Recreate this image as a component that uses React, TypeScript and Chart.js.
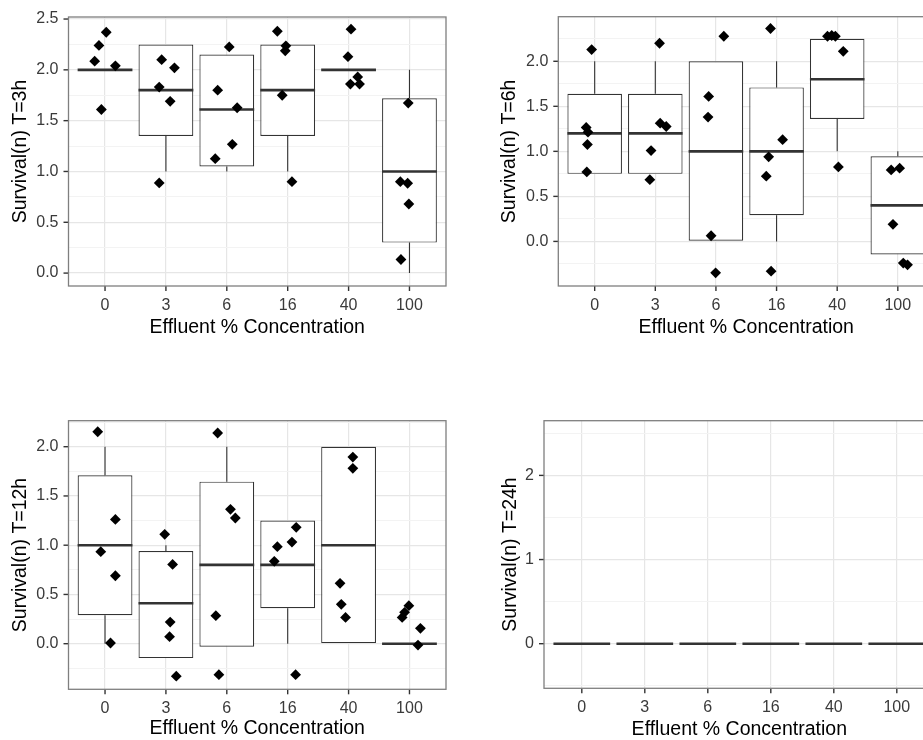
import React, { useEffect, useRef } from "react";
import { Chart, registerables } from "chart.js";

Chart.register(...registerables);

// ---------- data ----------
const categories = ["0", "3", "6", "16", "40", "100"];
const xAxisTitle = "Effluent % Concentration";

// T = 3h
const t3Title = "Survival(n) T=3h";
const t3Q1 = [2.0, 1.35, 1.05, 1.35, 2.0, 0.3];
const t3Median = [2.0, 1.8, 1.61, 1.8, 2.0, 1.0];
const t3Q3 = [2.0, 2.25, 2.15, 2.25, 2.0, 1.72];
const t3Low = [2.0, 1.0, 1.0, 1.0, 2.0, 0.0];
const t3High = [2.0, 2.25, 2.15, 2.25, 2.0, 2.0];
const t3Values = [
  [2.37, 2.24, 2.085, 2.04, 1.61],
  [2.1, 2.02, 1.83, 1.69, 0.887],
  [2.226, 1.8, 1.627, 1.267, 1.126],
  [2.38, 2.236, 2.187, 1.75, 0.9],
  [2.4, 2.13, 1.93, 1.86, 1.86],
  [1.673, 0.9, 0.884, 0.68, 0.134],
];
const t3Jitter = [
  [0.02, -0.1, -0.17, 0.17, -0.06],
  [-0.07, 0.14, -0.11, 0.07, -0.11],
  [0.04, -0.15, 0.17, 0.09, -0.19],
  [-0.17, -0.03, -0.04, -0.09, 0.07],
  [0.04, -0.01, 0.15, 0.03, 0.18],
  [-0.02, -0.15, -0.03, -0.01, -0.14],
];
const t3MajorTicks = [0, 0.5, 1, 1.5, 2, 2.5];
const t3MinorTicks = [0.25, 0.75, 1.25, 1.75, 2.25];
const t3Range = [-0.127, 2.52];

// T = 6h
const t6Title = "Survival(n) T=6h";
const t6Q1 = [0.75, 0.75, 0.0, 0.29, 1.36, -0.145];
const t6Median = [1.2, 1.2, 1.0, 1.0, 1.8, 0.4];
const t6Q3 = [1.64, 1.64, 2.0, 1.71, 2.25, 0.945];
const t6Low = [0.75, 0.75, 0.0, 0.0, 1.0, -0.145];
const t6High = [2.0, 2.0, 2.0, 2.0, 2.25, 1.0];
const t6Values = [
  [2.13, 1.265, 1.213, 1.076, 0.772],
  [2.2, 1.313, 1.276, 1.009, 0.686],
  [2.278, 1.61, 1.38, 0.063, -0.349],
  [2.364, 1.13, 0.939, 0.724, -0.33],
  [2.278, 2.286, 2.278, 2.111, 0.827],
  [0.794, 0.813, 0.19, -0.24, -0.26],
];
const t6Jitter = [
  [-0.05, -0.14, -0.11, -0.12, -0.13],
  [0.07, 0.08, 0.18, -0.07, -0.09],
  [0.13, -0.12, -0.13, -0.08, -0.005],
  [-0.1, 0.1, -0.13, -0.17, -0.09],
  [-0.16, -0.09, -0.03, 0.1, 0.02],
  [-0.11, 0.03, -0.08, 0.09, 0.16],
];
const t6MajorTicks = [0, 0.5, 1, 1.5, 2];
const t6MinorTicks = [-0.25, 0.25, 0.75, 1.25, 1.75, 2.25];
const t6Range = [-0.495, 2.495];

// T = 12h
const t12Title = "Survival(n) T=12h";
const t12Q1 = [0.29, -0.146, -0.03, 0.36, 0.0, 0.0];
const t12Median = [1.0, 0.41, 0.8, 0.8, 1.0, 0.0];
const t12Q3 = [1.71, 0.94, 1.645, 1.25, 2.0, 0.0];
const t12Low = [0.0, -0.146, -0.03, 0.0, 0.0, 0.0];
const t12High = [2.0, 1.0, 2.0, 1.25, 2.0, 0.0];
const t12Values = [
  [2.152, 1.262, 0.934, 0.69, 0.007],
  [1.11, 0.805, 0.22, 0.071, -0.33],
  [2.139, 1.364, 1.276, 0.284, -0.315],
  [1.181, 1.032, 0.985, 0.836, -0.315],
  [1.895, 1.78, 0.613, 0.4, 0.267],
  [0.386, 0.318, 0.267, 0.156, -0.014],
];
const t12Jitter = [
  [-0.12, 0.17, -0.07, 0.17, 0.09],
  [-0.02, 0.11, 0.07, 0.06, 0.17],
  [-0.15, 0.06, 0.14, -0.18, -0.13],
  [0.14, 0.07, -0.17, -0.22, 0.13],
  [0.07, 0.07, -0.14, -0.12, -0.05],
  [-0.01, -0.08, -0.12, 0.18, 0.14],
];
const t12MajorTicks = [0, 0.5, 1, 1.5, 2];
const t12MinorTicks = [-0.25, 0.25, 0.75, 1.25, 1.75, 2.25];
const t12Range = [-0.463, 2.264];

// T = 24h
const t24Title = "Survival(n) T=24h";
const t24Q1 = [0, 0, 0, 0, 0, 0];
const t24Median = [0, 0, 0, 0, 0, 0];
const t24Q3 = [0, 0, 0, 0, 0, 0];
const t24Low = [0, 0, 0, 0, 0, 0];
const t24High = [0, 0, 0, 0, 0, 0];
const t24Values: number[][] = [[], [], [], [], [], []];
const t24Jitter: number[][] = [[], [], [], [], [], []];
const t24MajorTicks = [0, 1, 2];
const t24MinorTicks = [-0.5, 0.5, 1.5, 2.5];
const t24Range = [-0.53, 2.65];

// ---------- styling ----------
const FONT = "'Liberation Sans', Arial, Helvetica, sans-serif";
const BOX_COLOR = "#333333";
const GRID_MAJOR = "#E6E6E6";
const GRID_MINOR = "#F3F3F3";
const BORDER_COLOR = "#7F7F7F";
const TICK_TEXT = "#3A3A3A";
const TICK_LEN = 5;

type PanelData = {
  title: string;
  q1: number[];
  median: number[];
  q3: number[];
  low: number[];
  high: number[];
  values: number[][];
  jitter: number[][];
  major: number[];
  minor: number[];
  range: number[];
  decimals: number;
};

type Layout = {
  left: number;
  top: number;
  w: number;
  h: number;
  padLeft: number;
  padTop: number;
  padRight: number;
  yAxisWidth: number;
  xAxisHeight: number;
  xTitlePad: number;
};

const panels: { data: PanelData; layout: Layout }[] = [
  {
    data: { title: t3Title, q1: t3Q1, median: t3Median, q3: t3Q3, low: t3Low, high: t3High, values: t3Values, jitter: t3Jitter, major: t3MajorTicks, minor: t3MinorTicks, range: t3Range, decimals: 1 },
    layout: { left: 0, top: 0, w: 460, h: 345, padLeft: 0, padTop: 17, padRight: 14, yAxisWidth: 68.5, xAxisHeight: 59, xTitlePad: 5.6 },
  },
  {
    data: { title: t6Title, q1: t6Q1, median: t6Median, q3: t6Q3, low: t6Low, high: t6High, values: t6Values, jitter: t6Jitter, major: t6MajorTicks, minor: t6MinorTicks, range: t6Range, decimals: 1 },
    layout: { left: 460, top: 0, w: 490, h: 345, padLeft: 28.3, padTop: 16.7, padRight: 15.8, yAxisWidth: 70, xAxisHeight: 59, xTitlePad: 5.3 },
  },
  {
    data: { title: t12Title, q1: t12Q1, median: t12Median, q3: t12Q3, low: t12Low, high: t12High, values: t12Values, jitter: t12Jitter, major: t12MajorTicks, minor: t12MinorTicks, range: t12Range, decimals: 1 },
    layout: { left: 0, top: 400, w: 460, h: 350, padLeft: 0, padTop: 20.7, padRight: 14, yAxisWidth: 68.5, xAxisHeight: 60.7, xTitlePad: 9.3 },
  },
  {
    data: { title: t24Title, q1: t24Q1, median: t24Median, q3: t24Q3, low: t24Low, high: t24High, values: t24Values, jitter: t24Jitter, major: t24MajorTicks, minor: t24MinorTicks, range: t24Range, decimals: 0 },
    layout: { left: 460, top: 400, w: 490, h: 350, padLeft: 29.5, padTop: 20.7, padRight: 15.4, yAxisWidth: 54.5, xAxisHeight: 61.7, xTitlePad: 8.9 },
  },
];

function makeBoxPlugin(p: PanelData) {
  const clipArea = (chart: any) => {
    const { ctx, chartArea } = chart;
    ctx.beginPath();
    ctx.rect(chartArea.left, chartArea.top, chartArea.right - chartArea.left, chartArea.bottom - chartArea.top);
    ctx.clip();
  };
  return {
    id: "boxParts",
    beforeDatasetsDraw(chart: any) {
      const { ctx, scales } = chart;
      const xs = scales.x;
      const ys = scales.y;
      ctx.save();
      clipArea(chart);
      ctx.strokeStyle = BOX_COLOR;
      ctx.lineWidth = 1.1;
      p.q1.forEach((q1, i) => {
        const x = xs.getPixelForValue(i);
        if (p.low[i] < q1) {
          ctx.beginPath();
          ctx.moveTo(x, ys.getPixelForValue(p.low[i]));
          ctx.lineTo(x, ys.getPixelForValue(q1));
          ctx.stroke();
        }
        if (p.high[i] > p.q3[i]) {
          ctx.beginPath();
          ctx.moveTo(x, ys.getPixelForValue(p.q3[i]));
          ctx.lineTo(x, ys.getPixelForValue(p.high[i]));
          ctx.stroke();
        }
      });
      ctx.restore();
    },
    afterDatasetDraw(chart: any, args: any) {
      if (args.meta.type !== "bar") return;
      const { ctx, scales } = chart;
      const xs = scales.x;
      const ys = scales.y;
      ctx.save();
      clipArea(chart);
      ctx.strokeStyle = BOX_COLOR;
      ctx.lineWidth = 2.6;
      p.median.forEach((m, i) => {
        const y = ys.getPixelForValue(m);
        ctx.beginPath();
        ctx.moveTo(xs.getPixelForValue(i - 0.45), y);
        ctx.lineTo(xs.getPixelForValue(i + 0.45), y);
        ctx.stroke();
      });
      ctx.restore();
    },
    afterDraw(chart: any) {
      const { ctx, chartArea, scales } = chart;
      ctx.save();
      // axis tick marks
      ctx.strokeStyle = BOX_COLOR;
      ctx.lineWidth = 1.4;
      categories.forEach((_, i) => {
        const x = scales.x.getPixelForValue(i);
        ctx.beginPath();
        ctx.moveTo(x, chartArea.bottom);
        ctx.lineTo(x, chartArea.bottom + TICK_LEN);
        ctx.stroke();
      });
      p.major.forEach((v) => {
        const y = scales.y.getPixelForValue(v);
        ctx.beginPath();
        ctx.moveTo(chartArea.left - TICK_LEN, y);
        ctx.lineTo(chartArea.left, y);
        ctx.stroke();
      });
      // panel border
      ctx.strokeStyle = BORDER_COLOR;
      ctx.lineWidth = 1.3;
      ctx.strokeRect(chartArea.left, chartArea.top, chartArea.right - chartArea.left, chartArea.bottom - chartArea.top);
      ctx.restore();
    },
  };
}

function buildConfig(p: PanelData, l: Layout): any {
  const points: { x: number; y: number }[] = [];
  p.values.forEach((vals, i) =>
    vals.forEach((v, j) => points.push({ x: i + p.jitter[i][j], y: v }))
  );
  const boxes = categories.map((_, i) => ({ x: i, y: [p.q1[i], p.q3[i]] }));
  const yTicks = [...p.minor, ...p.major].sort((a, b) => a - b);
  const isMajor = (v: number) => p.major.includes(v);

  return {
    type: "scatter",
    data: {
      datasets: [
        {
          type: "scatter",
          data: points,
          pointStyle: "rectRot",
          pointRadius: 5.4,
          pointBackgroundColor: "#000000",
          pointBorderWidth: 0,
          pointBorderColor: "#000000",
        },
        {
          type: "bar",
          data: boxes,
          backgroundColor: "#FFFFFF",
          borderColor: BOX_COLOR,
          borderWidth: 1.2,
          borderSkipped: false,
          inflateAmount: 0,
          categoryPercentage: 0.9,
          barPercentage: 1.0,
        },
      ],
    },
    options: {
      responsive: false,
      animation: false,
      devicePixelRatio: 1,
      events: [],
      layout: { padding: { left: l.padLeft, top: l.padTop, right: l.padRight, bottom: 0 } },
      plugins: { legend: { display: false }, tooltip: { enabled: false } },
      scales: {
        x: {
          type: "linear",
          min: -0.6,
          max: categories.length - 0.4,
          bounds: "data",
          offset: false,
          afterBuildTicks: (scale: any) => {
            scale.ticks = categories.map((_, i) => ({ value: i }));
          },
          afterFit: (scale: any) => {
            scale.height = l.xAxisHeight;
            scale.paddingLeft = 0;
            scale.paddingRight = 0;
          },
          ticks: {
            autoSkip: false,
            maxRotation: 0,
            padding: 10,
            color: TICK_TEXT,
            font: { family: FONT, size: 16 },
            callback: (v: number) => categories[Math.round(v)] ?? "",
          },
          grid: {
            offset: false,
            color: GRID_MAJOR,
            lineWidth: 1.2,
            drawTicks: false,
          },
          border: { display: false },
          title: {
            display: true,
            text: xAxisTitle,
            color: "#000000",
            font: { family: FONT, size: 19.5 },
            padding: { top: 0, bottom: l.xTitlePad },
          },
        },
        y: {
          type: "linear",
          min: p.range[0],
          max: p.range[1],
          bounds: "data",
          afterBuildTicks: (scale: any) => {
            scale.ticks = yTicks.map((v) => ({ value: v }));
          },
          afterFit: (scale: any) => {
            scale.width = l.yAxisWidth;
            scale.paddingTop = 0;
            scale.paddingBottom = 0;
          },
          ticks: {
            autoSkip: false,
            padding: 10,
            color: TICK_TEXT,
            font: { family: FONT, size: 16 },
            callback: (v: number) => (isMajor(v) ? v.toFixed(p.decimals) : ""),
          },
          grid: {
            offset: false,
            color: (ctx: any) => (ctx.tick && isMajor(ctx.tick.value) ? GRID_MAJOR : GRID_MINOR),
            lineWidth: (ctx: any) => (ctx.tick && isMajor(ctx.tick.value) ? 1.2 : 1),
            drawTicks: false,
          },
          border: { display: false },
          title: {
            display: true,
            text: p.title,
            color: "#000000",
            font: { family: FONT, size: 19.5 },
            padding: { top: 9.4, bottom: 0 },
          },
        },
      },
    },
    plugins: [makeBoxPlugin(p)],
  };
}

function Panel({ data, layout }: { data: PanelData; layout: Layout }) {
  const ref = useRef<HTMLCanvasElement>(null);
  useEffect(() => {
    if (!ref.current) return;
    const chart = new Chart(ref.current, buildConfig(data, layout));
    return () => chart.destroy();
  }, [data, layout]);
  return (
    <canvas
      ref={ref}
      width={layout.w}
      height={layout.h}
      style={{ position: "absolute", left: layout.left, top: layout.top, width: layout.w, height: layout.h }}
    />
  );
}

export default function App() {
  return (
    <div
      style={{
        position: "fixed",
        left: 0,
        top: 0,
        width: 923,
        height: 740,
        overflow: "hidden",
        background: "#FFFFFF",
      }}
    >
      {panels.map((p, i) => (
        <Panel key={i} data={p.data} layout={p.layout} />
      ))}
    </div>
  );
}
